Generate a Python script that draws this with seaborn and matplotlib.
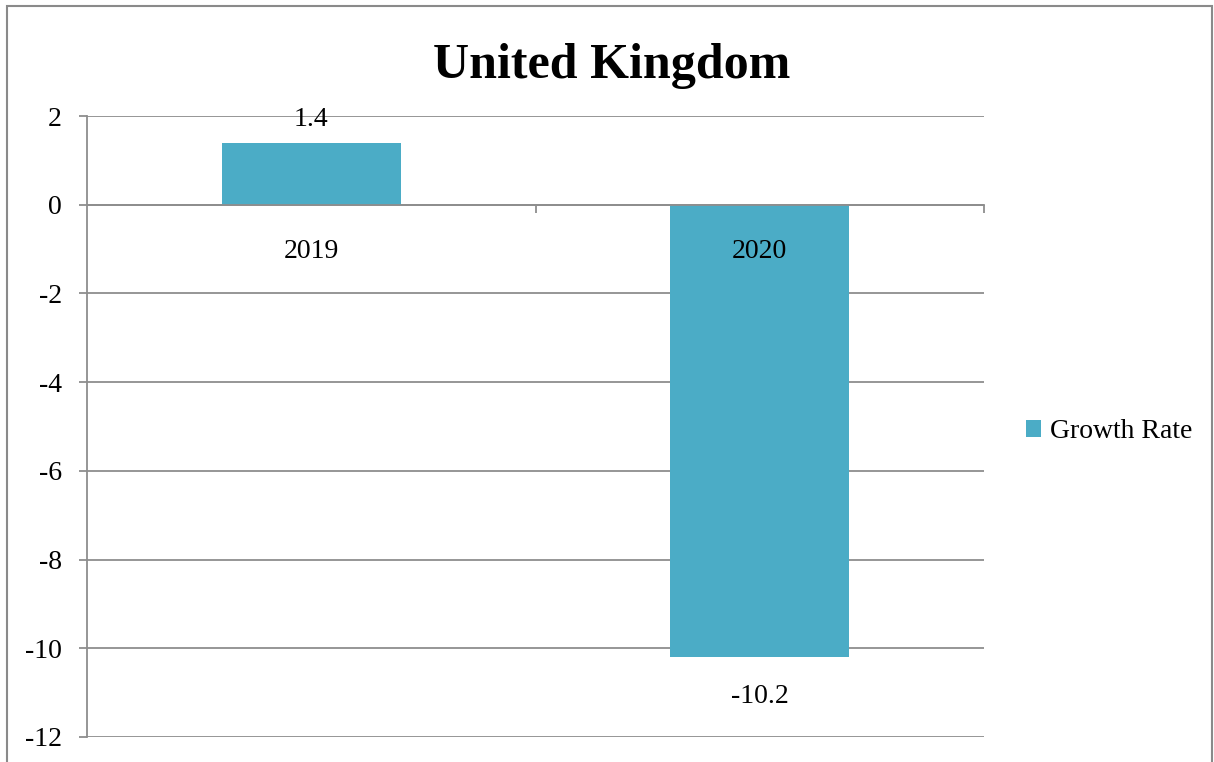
import matplotlib
matplotlib.use("Agg")
import matplotlib.pyplot as plt
from matplotlib.patches import Rectangle
from matplotlib.ticker import FixedLocator
import seaborn as sns
import pandas as pd

# Chart data
years = ["2019", "2020"]
growth = [1.4, -10.2]
series_name = "Growth Rate"
title = "United Kingdom"
y_ticks = [2, 0, -2, -4, -6, -8, -10, -12]

BAR = "#4BACC6"
GRID = "#8E8E8E"
SERIF = ["Liberation Serif", "DejaVu Serif"]
FS = 20

sns.set_theme(style="white")
plt.rcParams["font.family"] = SERIF
plt.rcParams["axes.unicode_minus"] = False
plt.rcParams["text.color"] = "black"

df = pd.DataFrame({"year": years, "value": growth, "series": series_name})

fig = plt.figure(figsize=(12.14, 7.62), dpi=100)
ax = fig.add_axes([87 / 1214, 1 - 737 / 762, (984 - 87) / 1214, (737 - 116) / 762])

sns.barplot(data=df, x="year", y="value", hue="series", palette=[BAR],
            width=0.4, saturation=1, linewidth=0, ax=ax, legend=False)

ax.set_xlim(-0.5, 1.5)
ax.set_ylim(min(y_ticks), max(y_ticks))
ax.set_yticks(y_ticks)
ax.set_xlabel("")
ax.set_ylabel("")

# horizontal gridlines under the bars, category labels above them
ax.set_axisbelow(True)
ax.yaxis.grid(True, color=GRID, linewidth=1.3)
ax.xaxis.grid(False)
ax.xaxis.set_zorder(3)

for side in ("top", "right"):
    ax.spines[side].set_visible(False)
ax.spines["left"].set_color(GRID)
ax.spines["left"].set_linewidth(1.3)
ax.spines["bottom"].set_position(("data", 0))
ax.spines["bottom"].set_color(GRID)
ax.spines["bottom"].set_linewidth(1.3)

ax.tick_params(axis="y", direction="out", length=6, width=1.3, color=GRID,
               pad=12, labelsize=FS, labelcolor="black", left=True)
ax.xaxis.set_minor_locator(FixedLocator([0.5, 1.5]))
ax.tick_params(axis="x", which="major", length=0, pad=25, labelsize=FS,
               labelcolor="black")
ax.tick_params(axis="x", which="minor", direction="out", length=6, width=1.3,
               color=GRID, bottom=True)

# value labels
for i, v in enumerate(growth):
    if v >= 0:
        ax.annotate(f"{v}", (i, v), xytext=(0, 8), textcoords="offset points",
                    ha="center", va="bottom", fontsize=FS, color="black", zorder=4)
    else:
        ax.annotate(f"{v}", (i, v), xytext=(0, -19), textcoords="offset points",
                    ha="center", va="top", fontsize=FS, color="black", zorder=4)

fig.text(612 / 1214, 1 - 66 / 762, title, ha="center", va="center",
         fontsize=36, fontweight="bold", color="black")

# legend
handle = Rectangle((0, 0), 1, 1, facecolor=BAR, edgecolor="none")
leg = fig.legend([handle], [series_name], loc="center left",
                 bbox_to_anchor=(1001 / 1214, 1 - 432 / 762), frameon=False,
                 fontsize=FS, handlelength=0.55, handleheight=0.55,
                 handletextpad=0.3)
for t in leg.get_texts():
    t.set_color("black")

# chart-area border
fig.patches.append(Rectangle((7 / 1214, -0.1), (1212 - 7) / 1214, 1.1 - 6 / 762,
                             transform=fig.transFigure, fill=False,
                             edgecolor="#8A8A8A", linewidth=1.5))

fig.savefig("out.png", dpi=100)
